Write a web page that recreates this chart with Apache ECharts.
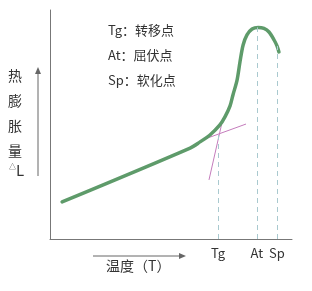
<!DOCTYPE html>
<html>
<head>
<meta charset="utf-8">
<script src="https://cdn.jsdelivr.net/npm/echarts@6/dist/echarts.min.js"></script>
<style>
html,body{margin:0;padding:0;background:#fff;}
#main{width:312px;height:291px;}
</style>
</head>
<body>
<div id="main"></div>
<script>
// 膨胀曲线 (温度, 热膨胀量)
var curveX = [5.0, 57.9, 62.0, 66.1, 70.2, 72.3, 74.4, 75.6, 77.3, 78.5, 79.8, 81.4, 83.5, 86.0, 88.4, 90.5, 92.6, 93.8, 94.6];
var curveY = [16.2, 39.7, 42.4, 45.4, 49.8, 53.3, 58.1, 62.9, 69.4, 77.3, 84.7, 89.1, 91.7, 92.4, 92.0, 90.4, 86.9, 84.3, 81.7];
// 切线
var tanAX = [62.8, 81.0];
var tanAY = [43.2, 50.2];
var tanBX = [65.7, 71.5];
var tanBY = [25.8, 52.8];
// 特征点
var pointNames = ['Tg', 'At', 'Sp'];
var pointX = [69.4, 85.5, 93.8];
var pointTop = [46.3, 92.4, 84.3];
var legendLines = ['Tg：转移点', 'At：屈伏点', 'Sp：软化点'];

function zip(xs, ys){
	var r = [];
	for(var i=0;i<xs.length;i++){ r.push([xs[i], ys[i]]); }
	return r;
}

var chart = echarts.init(document.getElementById('main'));
var font = '"Noto Sans CJK SC", "Noto Sans", sans-serif';

var markData = [];
for(var i=0;i<pointX.length;i++){
	markData.push([{coord:[pointX[i],0]},{coord:[pointX[i],pointTop[i]]}]);
}

var graphics = [];
for(var j=0;j<legendLines.length;j++){
	graphics.push({
		type:'text', left:108, top:24+j*25,
		style:{text:legendLines[j], fill:'#333', font:'13px '+font}
	});
}
// 纵轴标题
graphics.push({
	type:'text', left:8, top:63,
	style:{text:'热\n膨\n胀\n量', fill:'#333', font:'14px '+font, lineHeight:25}
});
graphics.push({
	type:'text', left:9, top:163,
	style:{text:'△', fill:'#333', font:'7px '+font}
});
graphics.push({
	type:'text', left:16, top:163,
	style:{text:'L', fill:'#333', font:'15px '+font}
});
// 箭头
graphics.push({type:'line', shape:{x1:38,y1:176,x2:38,y2:72}, style:{stroke:'#666', lineWidth:1}});
graphics.push({type:'polygon', shape:{points:[[38,67],[35,74],[41,74]]}, style:{fill:'#666'}});
graphics.push({type:'line', shape:{x1:93,y1:256,x2:180,y2:256}, style:{stroke:'#666', lineWidth:1}});
graphics.push({type:'polygon', shape:{points:[[186,256],[179,253],[179,259]]}, style:{fill:'#666'}});
graphics.push({
	type:'text', left:106, top:259,
	style:{text:'温度（T）', fill:'#333', font:'14px '+font}
});

var option = {
	animation:false,
	grid:{left:50, right:20, top:10, bottom:52},
	xAxis:{
		type:'value', min:0, max:100,
		splitLine:{show:false},
		axisLine:{lineStyle:{color:'#777', width:1}},
		axisTick:{show:false},
		axisLabel:{
			customValues:pointX,
			margin:8,
			color:'#333',
			fontSize:13,
			fontFamily:font,
			formatter:function(v){
				var k = pointX.indexOf(v);
				return k>=0 ? pointNames[k] : '';
			}
		}
	},
	yAxis:{
		type:'value', min:0, max:100,
		splitLine:{show:false},
		axisLine:{show:true, lineStyle:{color:'#777', width:1}},
		axisTick:{show:false},
		axisLabel:{show:false}
	},
	graphic:graphics,
	series:[
		{
			type:'line', data:zip(tanAX,tanAY), showSymbol:false, silent:true,
			lineStyle:{color:'#c47cbc', width:1}
		},
		{
			type:'line', data:zip(tanBX,tanBY), showSymbol:false, silent:true,
			lineStyle:{color:'#c47cbc', width:1}
		},
		{
			type:'line', data:zip(curveX,curveY), smooth:0.3, showSymbol:false,
			lineStyle:{color:'#5e9b6a', width:3.5, cap:'round'},
			markLine:{
				silent:true, symbol:'none', label:{show:false},
				lineStyle:{color:'#a9c9cf', type:[5,4], width:1},
				data:markData
			}
		}
	]
};
chart.setOption(option);
</script>
</body>
</html>
